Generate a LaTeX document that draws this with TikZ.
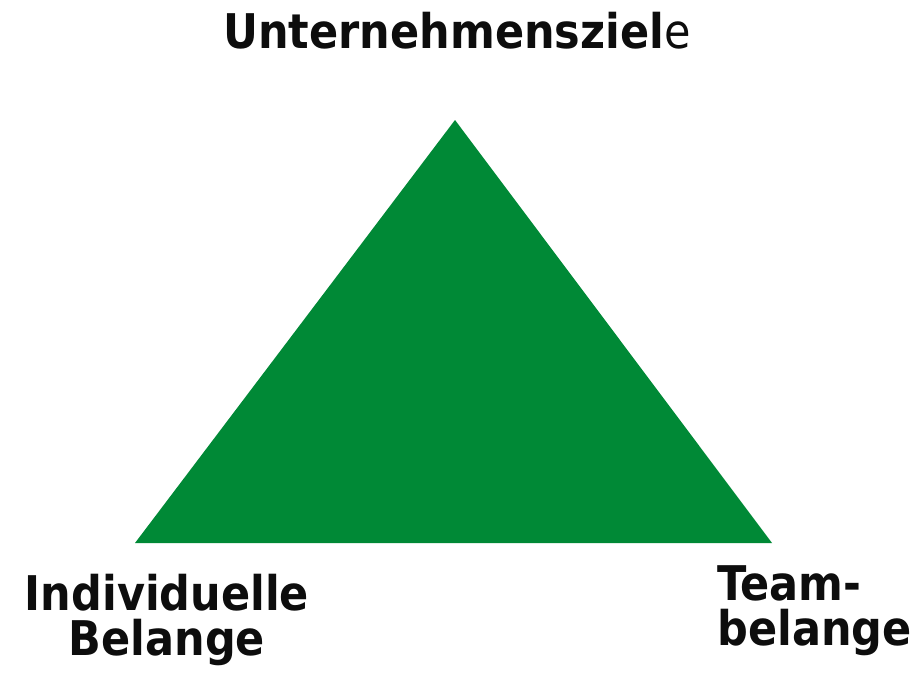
\documentclass[tikz,border=0pt]{standalone}
\usepackage{fontspec}
\setmainfont{DejaVu Sans Condensed}
\definecolor{zielgruen}{RGB}{0,137,54}
\tikzset{
	ecke/.style={font=\fontsize{27.2}{25.6}\selectfont\bfseries, align=left, inner sep=0pt, text=black!95},
}

\begin{document}
\begin{tikzpicture}[x=0.02cm, y=-0.02cm]
			%%%%% START %%%%%
			
			\useasboundingbox[fill=white] (0, 0) rectangle (922, 673);
			
			\coordinate (oben) at (455, 120);
			\coordinate (links) at (135, 543);
			\coordinate (rechts) at (772, 543);
			\draw[fill=zielgruen, draw=none] (oben) -- (rechts) -- (links) -- cycle;
			
			\node[ecke, anchor=base west] (ziele) at (223, 48) {Unternehmensziel\textmd{e}};
			% base of the two-line nodes is the last line
			\node[ecke, anchor=base, align=center] (indiv) at (167, 655) {Individuelle\\Belange};
			\node[ecke, anchor=base west] (team) at (717, 645) {Team-\\belange};
			
			%%%%% END %%%%%
\end{tikzpicture}
\end{document}
